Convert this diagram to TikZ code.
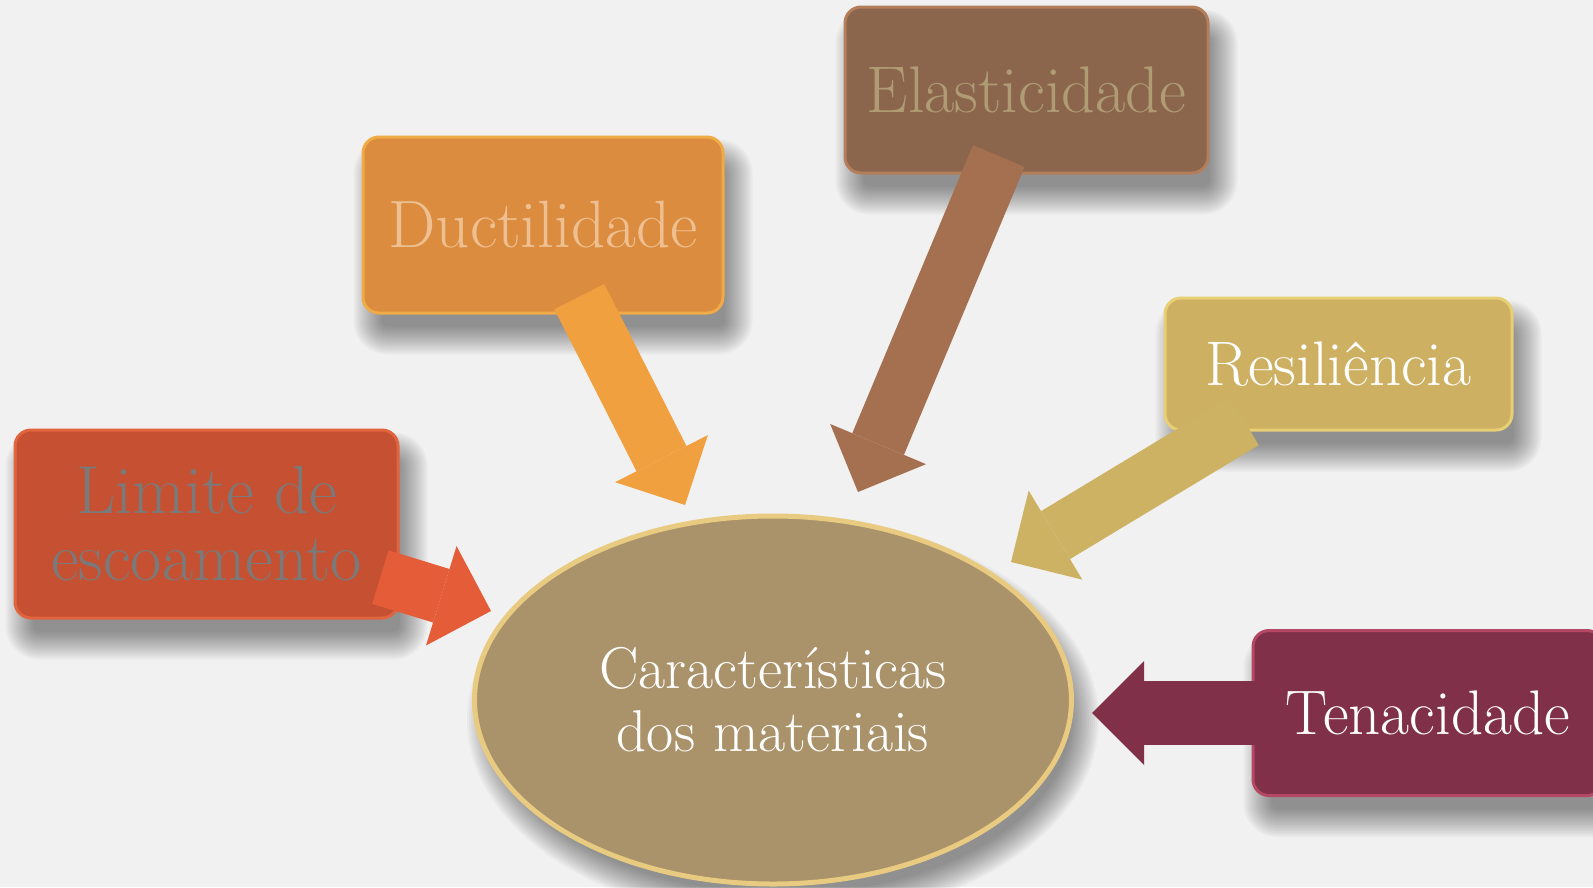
\documentclass[tikz,border=0pt]{standalone}
\usetikzlibrary{arrows.meta,shapes.geometric}
\pgfdeclarelayer{bglayer}
\pgfdeclarelayer{shadowlayer}
\pgfsetlayers{bglayer,shadowlayer,main}
\definecolor{bgc}{RGB}{241,241,241}
\definecolor{limF}{RGB}{198,80,50}
\definecolor{limE}{RGB}{226,100,62}
\definecolor{limA}{RGB}{228,92,56}
\definecolor{limT}{RGB}{122,122,122}
\definecolor{ducF}{RGB}{219,140,62}
\definecolor{ducE}{RGB}{240,170,70}
\definecolor{ducA}{RGB}{240,160,62}
\definecolor{ducT}{RGB}{238,192,145}
\definecolor{elaF}{RGB}{140,102,76}
\definecolor{elaE}{RGB}{180,126,90}
\definecolor{elaA}{RGB}{165,112,80}
\definecolor{elaT}{RGB}{176,156,116}
\definecolor{resF}{RGB}{205,176,98}
\definecolor{resE}{RGB}{232,206,116}
\definecolor{resA}{RGB}{205,178,100}
\definecolor{tenF}{RGB}{128,48,72}
\definecolor{tenE}{RGB}{180,72,100}
\definecolor{tenA}{RGB}{128,48,72}
\definecolor{carF}{RGB}{170,147,106}
\definecolor{carE}{RGB}{232,202,128}
\tikzset{
  shadowlayerstyle/.style={black, opacity=0.03},
  box/.style={rectangle, rounded corners=16pt, line width=3pt, inner sep=0pt, align=center},
  block/.style={line width=#1, -{Triangle[length=52pt,width=104pt,line width=0pt]}, shorten <=-20pt},
  block/.default=56pt,
}
\newcommand\myboxshadow[1]{%
  \begin{pgfonlayer}{shadowlayer}
  \foreach \i in {-10,-8,...,18}{
    \pgfmathsetmacro\rr{max(4,16+\i)}
    \fill[shadowlayerstyle, rounded corners=\rr pt]
      ([xshift=10pt-\i pt, yshift=-22pt+\i pt]#1.north west) rectangle
      ([xshift=10pt+\i pt, yshift=-22pt-\i pt]#1.south east);
  }
  \end{pgfonlayer}}
\begin{document}
\begin{tikzpicture}[x=1pt,y=-1pt]
\useasboundingbox (0,0) rectangle (1593,887);
\clip (0,0) rectangle (1593,887);
\begin{pgfonlayer}{bglayer}
\fill[bgc] (0,0) rectangle (1593,887);
\end{pgfonlayer}

\node[ellipse, fill=carF, draw=carE, line width=5pt, text=white, align=center,
      minimum width=597pt, minimum height=368pt, inner sep=0pt,
      font=\fontsize{59}{63}\selectfont] (car) at (773,700) {Características\\dos materiais};
\begin{pgfonlayer}{shadowlayer}
\foreach \i in {-10,-8,...,18}{
  \fill[shadowlayerstyle] ([xshift=10pt, yshift=-20pt]car.center) ellipse [x radius=298pt+\i pt, y radius=184pt+\i pt];
}
\end{pgfonlayer}

\node[box, fill=limF, draw=limE, text=limT, font=\fontsize{68}{67}\selectfont, minimum width=383pt, minimum height=188pt] (limite) at (206.5,524) {Limite de\\escoamento};
\node[box, fill=ducF, draw=ducE, text=ducT, font=\fontsize{67}{67}\selectfont, minimum width=360pt, minimum height=176pt] (ductil) at (543,225) {Ductilidade};
\node[box, fill=elaF, draw=elaE, text=elaT, font=\fontsize{66}{67}\selectfont, minimum width=363pt, minimum height=166pt] (elast) at (1026.5,90) {Elasticidade};
\node[box, fill=resF, draw=resE, text=white, font=\fontsize{63}{67}\selectfont, minimum width=347pt, minimum height=132pt] (resil) at (1338.5,364) {Resiliência};
\node[box, fill=tenF, draw=tenE, text=white, font=\fontsize{63}{67}\selectfont, minimum width=350pt, minimum height=165pt] (tenac) at (1428,713) {Tenacidade};
\myboxshadow{limite}
\myboxshadow{ductil}
\myboxshadow{elast}
\myboxshadow{resil}
\myboxshadow{tenac}

\coordinate (ltip) at (491,611);
\coordinate (dtip) at (685,505);
\coordinate (etip) at (858,492);
\coordinate (rtip) at (1011,562);
\coordinate (ttip) at (1092,713);

\draw[block, draw=limA] (limite) -- (ltip);
\draw[block, draw=ducA] (ductil) -- (dtip);
\draw[block, draw=elaA] (elast) -- (etip);
\draw[block, draw=resA] (resil) -- (rtip);
\draw[block=64pt, draw=tenA] (tenac) -- (ttip);
\end{tikzpicture}
\end{document}
